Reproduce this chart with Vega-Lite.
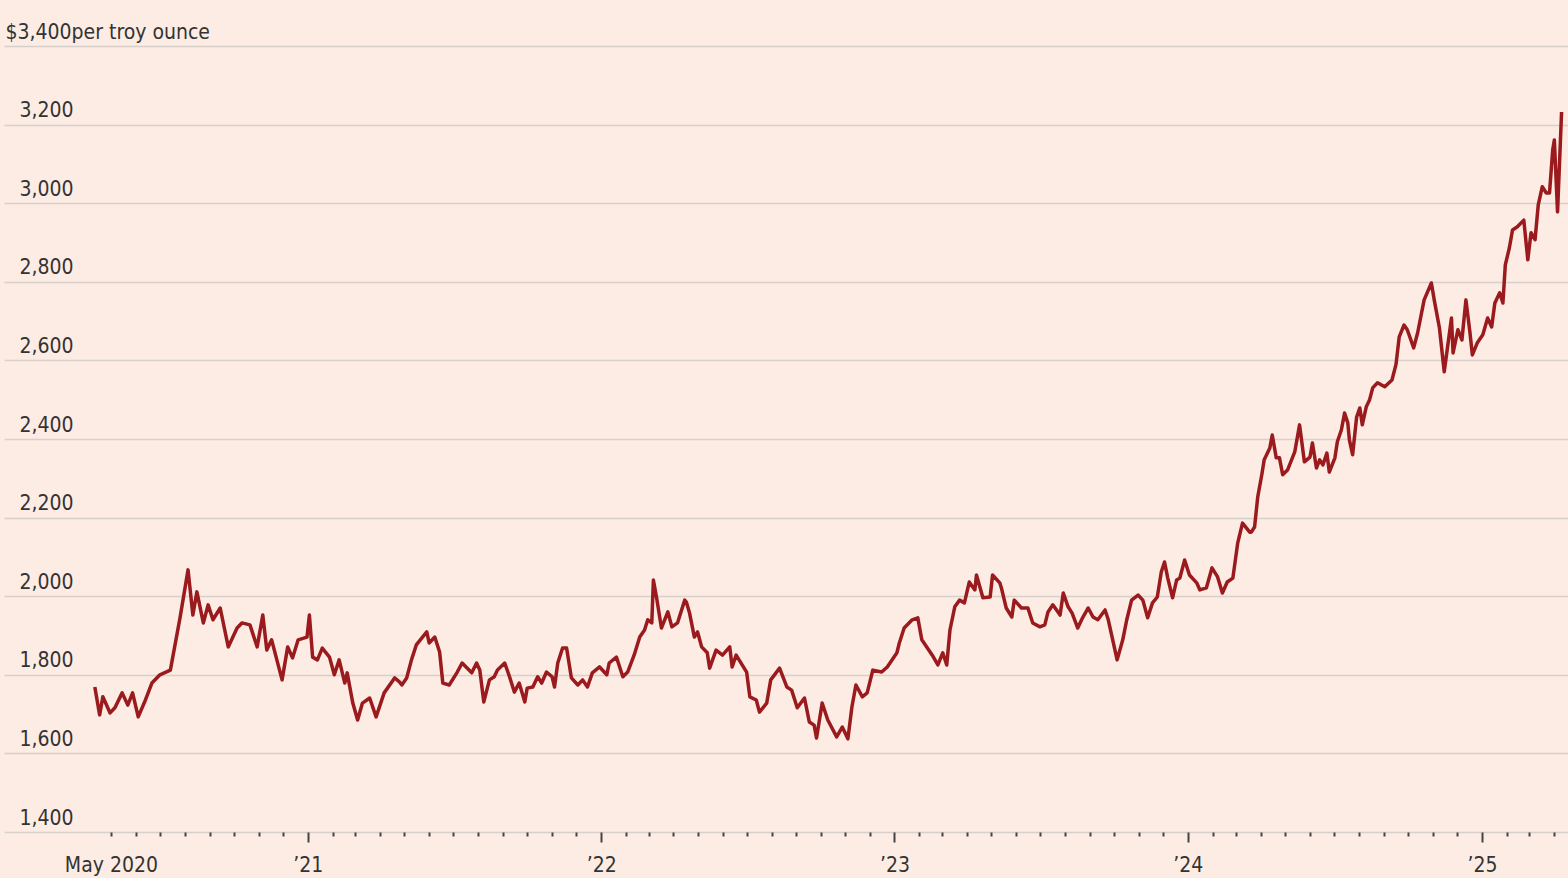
{
  "$schema": "https://vega.github.io/schema/vega-lite/v6.json",
  "autosize": "none",
  "width": 1564,
  "height": 786,
  "padding": {"left": 4, "top": 46, "right": 0, "bottom": 46},
  "background": "#fdece4",
  "config": {
    "view": {"stroke": null},
    "axis": {"labelFont": "'DejaVu Sans Condensed', Roboto, sans-serif", "labelFontSize": 21, "labelColor": "#333333", "labelLimit": 400}
  },
  "data": {
    "values": [
      {"date": "2020-04-11", "price": 1769}, {"date": "2020-04-17", "price": 1698}, {"date": "2020-04-21", "price": 1744},
      {"date": "2020-04-30", "price": 1703}, {"date": "2020-05-06", "price": 1716}, {"date": "2020-05-15", "price": 1754},
      {"date": "2020-05-22", "price": 1723}, {"date": "2020-05-28", "price": 1754}, {"date": "2020-06-04", "price": 1693},
      {"date": "2020-06-13", "price": 1736}, {"date": "2020-06-21", "price": 1779}, {"date": "2020-07-01", "price": 1800},
      {"date": "2020-07-14", "price": 1812}, {"date": "2020-07-26", "price": 1945}, {"date": "2020-08-05", "price": 2067},
      {"date": "2020-08-11", "price": 1952}, {"date": "2020-08-16", "price": 2011}, {"date": "2020-08-24", "price": 1932},
      {"date": "2020-08-30", "price": 1978}, {"date": "2020-09-05", "price": 1940}, {"date": "2020-09-14", "price": 1970},
      {"date": "2020-09-24", "price": 1871}, {"date": "2020-10-05", "price": 1919}, {"date": "2020-10-11", "price": 1932},
      {"date": "2020-10-21", "price": 1927}, {"date": "2020-10-30", "price": 1871}, {"date": "2020-11-06", "price": 1952},
      {"date": "2020-11-11", "price": 1863}, {"date": "2020-11-17", "price": 1889}, {"date": "2020-11-30", "price": 1787},
      {"date": "2020-12-07", "price": 1871}, {"date": "2020-12-13", "price": 1843}, {"date": "2020-12-20", "price": 1889},
      {"date": "2020-12-31", "price": 1896}, {"date": "2021-01-03", "price": 1952}, {"date": "2021-01-07", "price": 1845},
      {"date": "2021-01-13", "price": 1838}, {"date": "2021-01-19", "price": 1868}, {"date": "2021-01-28", "price": 1845},
      {"date": "2021-02-03", "price": 1800}, {"date": "2021-02-09", "price": 1838}, {"date": "2021-02-16", "price": 1779},
      {"date": "2021-02-19", "price": 1805}, {"date": "2021-02-26", "price": 1728}, {"date": "2021-03-04", "price": 1685},
      {"date": "2021-03-10", "price": 1728}, {"date": "2021-03-19", "price": 1741}, {"date": "2021-03-27", "price": 1693},
      {"date": "2021-04-06", "price": 1754}, {"date": "2021-04-19", "price": 1792}, {"date": "2021-04-25", "price": 1782},
      {"date": "2021-04-28", "price": 1774}, {"date": "2021-05-04", "price": 1792}, {"date": "2021-05-10", "price": 1838},
      {"date": "2021-05-16", "price": 1876}, {"date": "2021-05-29", "price": 1909}, {"date": "2021-06-01", "price": 1881},
      {"date": "2021-06-08", "price": 1896}, {"date": "2021-06-14", "price": 1858}, {"date": "2021-06-18", "price": 1779},
      {"date": "2021-06-26", "price": 1774}, {"date": "2021-07-06", "price": 1807}, {"date": "2021-07-12", "price": 1830},
      {"date": "2021-07-24", "price": 1805}, {"date": "2021-07-30", "price": 1830}, {"date": "2021-08-03", "price": 1812},
      {"date": "2021-08-08", "price": 1731}, {"date": "2021-08-15", "price": 1787}, {"date": "2021-08-21", "price": 1795},
      {"date": "2021-08-25", "price": 1812}, {"date": "2021-09-03", "price": 1830}, {"date": "2021-09-09", "price": 1795},
      {"date": "2021-09-15", "price": 1756}, {"date": "2021-09-21", "price": 1779}, {"date": "2021-09-28", "price": 1731},
      {"date": "2021-10-01", "price": 1766}, {"date": "2021-10-08", "price": 1769}, {"date": "2021-10-14", "price": 1795},
      {"date": "2021-10-19", "price": 1779}, {"date": "2021-10-25", "price": 1807}, {"date": "2021-11-01", "price": 1795},
      {"date": "2021-11-04", "price": 1769}, {"date": "2021-11-08", "price": 1830}, {"date": "2021-11-14", "price": 1868},
      {"date": "2021-11-19", "price": 1868}, {"date": "2021-11-25", "price": 1792}, {"date": "2021-12-03", "price": 1774},
      {"date": "2021-12-09", "price": 1787}, {"date": "2021-12-15", "price": 1769}, {"date": "2021-12-21", "price": 1805},
      {"date": "2021-12-30", "price": 1820}, {"date": "2022-01-08", "price": 1800}, {"date": "2022-01-11", "price": 1830},
      {"date": "2022-01-20", "price": 1845}, {"date": "2022-01-28", "price": 1795}, {"date": "2022-02-03", "price": 1807},
      {"date": "2022-02-11", "price": 1850}, {"date": "2022-02-18", "price": 1896}, {"date": "2022-02-24", "price": 1914},
      {"date": "2022-02-28", "price": 1940}, {"date": "2022-03-05", "price": 1932}, {"date": "2022-03-07", "price": 2041},
      {"date": "2022-03-11", "price": 1996}, {"date": "2022-03-17", "price": 1919}, {"date": "2022-03-25", "price": 1960},
      {"date": "2022-03-30", "price": 1922}, {"date": "2022-04-06", "price": 1932}, {"date": "2022-04-15", "price": 1990},
      {"date": "2022-04-17", "price": 1985}, {"date": "2022-04-21", "price": 1957}, {"date": "2022-04-27", "price": 1896},
      {"date": "2022-05-01", "price": 1909}, {"date": "2022-05-06", "price": 1871}, {"date": "2022-05-13", "price": 1856},
      {"date": "2022-05-16", "price": 1817}, {"date": "2022-05-24", "price": 1863}, {"date": "2022-06-01", "price": 1850},
      {"date": "2022-06-10", "price": 1871}, {"date": "2022-06-13", "price": 1820}, {"date": "2022-06-18", "price": 1850},
      {"date": "2022-07-01", "price": 1807}, {"date": "2022-07-05", "price": 1744}, {"date": "2022-07-13", "price": 1736},
      {"date": "2022-07-17", "price": 1705}, {"date": "2022-07-26", "price": 1728}, {"date": "2022-07-31", "price": 1787},
      {"date": "2022-08-11", "price": 1817}, {"date": "2022-08-20", "price": 1769}, {"date": "2022-08-26", "price": 1761},
      {"date": "2022-09-02", "price": 1716}, {"date": "2022-09-11", "price": 1741}, {"date": "2022-09-17", "price": 1680},
      {"date": "2022-09-23", "price": 1672}, {"date": "2022-09-26", "price": 1639}, {"date": "2022-10-03", "price": 1728},
      {"date": "2022-10-10", "price": 1685}, {"date": "2022-10-21", "price": 1642}, {"date": "2022-10-28", "price": 1667},
      {"date": "2022-11-04", "price": 1637}, {"date": "2022-11-09", "price": 1718}, {"date": "2022-11-14", "price": 1774},
      {"date": "2022-11-22", "price": 1744}, {"date": "2022-11-28", "price": 1754}, {"date": "2022-12-05", "price": 1812},
      {"date": "2022-12-16", "price": 1807}, {"date": "2022-12-23", "price": 1820}, {"date": "2023-01-04", "price": 1856},
      {"date": "2023-01-07", "price": 1881}, {"date": "2023-01-13", "price": 1919}, {"date": "2023-01-23", "price": 1940},
      {"date": "2023-01-30", "price": 1945}, {"date": "2023-02-04", "price": 1889}, {"date": "2023-02-17", "price": 1850},
      {"date": "2023-02-24", "price": 1825}, {"date": "2023-03-02", "price": 1856}, {"date": "2023-03-07", "price": 1825},
      {"date": "2023-03-11", "price": 1914}, {"date": "2023-03-17", "price": 1973}, {"date": "2023-03-23", "price": 1990},
      {"date": "2023-03-29", "price": 1983}, {"date": "2023-04-04", "price": 2036}, {"date": "2023-04-11", "price": 2016},
      {"date": "2023-04-13", "price": 2054}, {"date": "2023-04-21", "price": 1996}, {"date": "2023-04-30", "price": 1998},
      {"date": "2023-05-03", "price": 2054}, {"date": "2023-05-12", "price": 2034}, {"date": "2023-05-14", "price": 2021},
      {"date": "2023-05-20", "price": 1970}, {"date": "2023-05-27", "price": 1947}, {"date": "2023-05-30", "price": 1990},
      {"date": "2023-06-08", "price": 1970}, {"date": "2023-06-16", "price": 1970}, {"date": "2023-06-22", "price": 1932},
      {"date": "2023-07-01", "price": 1922}, {"date": "2023-07-07", "price": 1927}, {"date": "2023-07-11", "price": 1960},
      {"date": "2023-07-17", "price": 1978}, {"date": "2023-07-26", "price": 1952}, {"date": "2023-07-30", "price": 2008},
      {"date": "2023-08-05", "price": 1973}, {"date": "2023-08-10", "price": 1957}, {"date": "2023-08-17", "price": 1919},
      {"date": "2023-08-23", "price": 1945}, {"date": "2023-08-30", "price": 1970}, {"date": "2023-09-05", "price": 1947},
      {"date": "2023-09-11", "price": 1940}, {"date": "2023-09-20", "price": 1965}, {"date": "2023-09-24", "price": 1940},
      {"date": "2023-10-05", "price": 1838}, {"date": "2023-10-12", "price": 1889}, {"date": "2023-10-17", "price": 1940},
      {"date": "2023-10-23", "price": 1990}, {"date": "2023-10-31", "price": 2003}, {"date": "2023-11-06", "price": 1990},
      {"date": "2023-11-12", "price": 1945}, {"date": "2023-11-18", "price": 1983}, {"date": "2023-11-24", "price": 1998},
      {"date": "2023-11-29", "price": 2062}, {"date": "2023-12-03", "price": 2087}, {"date": "2023-12-07", "price": 2046},
      {"date": "2023-12-13", "price": 1996}, {"date": "2023-12-18", "price": 2041}, {"date": "2023-12-22", "price": 2046},
      {"date": "2023-12-28", "price": 2092}, {"date": "2024-01-03", "price": 2054}, {"date": "2024-01-12", "price": 2034},
      {"date": "2024-01-16", "price": 2016}, {"date": "2024-01-24", "price": 2021}, {"date": "2024-01-31", "price": 2072},
      {"date": "2024-02-07", "price": 2049}, {"date": "2024-02-13", "price": 2008}, {"date": "2024-02-19", "price": 2036},
      {"date": "2024-02-26", "price": 2046}, {"date": "2024-03-03", "price": 2135}, {"date": "2024-03-09", "price": 2186},
      {"date": "2024-03-18", "price": 2163}, {"date": "2024-03-20", "price": 2163}, {"date": "2024-03-24", "price": 2176},
      {"date": "2024-03-28", "price": 2253}, {"date": "2024-04-02", "price": 2309}, {"date": "2024-04-05", "price": 2347},
      {"date": "2024-04-12", "price": 2377}, {"date": "2024-04-15", "price": 2410}, {"date": "2024-04-20", "price": 2352},
      {"date": "2024-04-24", "price": 2352}, {"date": "2024-04-28", "price": 2309}, {"date": "2024-05-04", "price": 2321},
      {"date": "2024-05-13", "price": 2367}, {"date": "2024-05-19", "price": 2436}, {"date": "2024-05-25", "price": 2342},
      {"date": "2024-06-01", "price": 2354}, {"date": "2024-06-04", "price": 2390}, {"date": "2024-06-09", "price": 2326},
      {"date": "2024-06-13", "price": 2347}, {"date": "2024-06-17", "price": 2334}, {"date": "2024-06-22", "price": 2364},
      {"date": "2024-06-25", "price": 2316}, {"date": "2024-07-02", "price": 2352}, {"date": "2024-07-05", "price": 2393},
      {"date": "2024-07-10", "price": 2423}, {"date": "2024-07-14", "price": 2466}, {"date": "2024-07-18", "price": 2441},
      {"date": "2024-07-20", "price": 2398}, {"date": "2024-07-24", "price": 2360}, {"date": "2024-07-29", "price": 2456},
      {"date": "2024-08-02", "price": 2479}, {"date": "2024-08-05", "price": 2436}, {"date": "2024-08-10", "price": 2482},
      {"date": "2024-08-14", "price": 2499}, {"date": "2024-08-18", "price": 2530}, {"date": "2024-08-24", "price": 2543},
      {"date": "2024-09-02", "price": 2533}, {"date": "2024-09-11", "price": 2550}, {"date": "2024-09-16", "price": 2590},
      {"date": "2024-09-20", "price": 2660}, {"date": "2024-09-26", "price": 2690}, {"date": "2024-09-30", "price": 2678},
      {"date": "2024-10-08", "price": 2632}, {"date": "2024-10-13", "price": 2671}, {"date": "2024-10-21", "price": 2754},
      {"date": "2024-10-30", "price": 2797}, {"date": "2024-11-03", "price": 2749}, {"date": "2024-11-09", "price": 2683},
      {"date": "2024-11-15", "price": 2571}, {"date": "2024-11-24", "price": 2708}, {"date": "2024-11-26", "price": 2619},
      {"date": "2024-12-02", "price": 2678}, {"date": "2024-12-07", "price": 2652}, {"date": "2024-12-12", "price": 2754},
      {"date": "2024-12-17", "price": 2671}, {"date": "2024-12-20", "price": 2614}, {"date": "2024-12-26", "price": 2644},
      {"date": "2025-01-02", "price": 2665}, {"date": "2025-01-08", "price": 2708}, {"date": "2025-01-13", "price": 2685},
      {"date": "2025-01-17", "price": 2746}, {"date": "2025-01-23", "price": 2772}, {"date": "2025-01-27", "price": 2746},
      {"date": "2025-01-30", "price": 2843}, {"date": "2025-02-04", "price": 2886}, {"date": "2025-02-08", "price": 2932},
      {"date": "2025-02-14", "price": 2940}, {"date": "2025-02-22", "price": 2957}, {"date": "2025-02-27", "price": 2856},
      {"date": "2025-03-03", "price": 2925}, {"date": "2025-03-08", "price": 2907}, {"date": "2025-03-12", "price": 2996},
      {"date": "2025-03-17", "price": 3042}, {"date": "2025-03-22", "price": 3026}, {"date": "2025-03-26", "price": 3026},
      {"date": "2025-03-30", "price": 3136}, {"date": "2025-04-01", "price": 3161}, {"date": "2025-04-05", "price": 2978},
      {"date": "2025-04-10", "price": 3232}
    ]
  },
  "mark": {"type": "line", "color": "#9a1a1e", "strokeWidth": 3.5, "strokeJoin": "round"},
  "encoding": {
    "x": {
      "field": "date",
      "type": "temporal",
      "scale": {"type": "utc", "domain": [{"year": 2019, "month": 12, "date": 20, "utc": true}, {"year": 2025, "month": 4, "date": 18, "utc": true}]},
      "axis": {
        "title": null,
        "domain": false,
        "grid": false,
        "tickCount": {"interval": "month", "step": 1},
        "tickColor": "#444444",
        "tickWidth": 2,
        "tickSize": {"condition": {"test": "utcmonth(datum.value) == 0", "value": 10}, "value": 4},
        "labelBaseline": "alphabetic",
        "labelPadding": {"condition": {"test": "utcmonth(datum.value) == 0", "value": 29}, "value": 35},
        "labelOverlap": false,
        "labelFlush": false,
        "labelExpr": "utcyear(datum.value) == 2020 && utcmonth(datum.value) == 4 ? 'May 2020' : (utcmonth(datum.value) == 0 && utcyear(datum.value) > 2020 ? '’' + utcFormat(datum.value, '%y') : '')",
        "tickOpacity": {"condition": {"test": "utcyear(datum.value) == 2020 && utcmonth(datum.value) < 4", "value": 0}, "value": 1}
      }
    },
    "y": {
      "field": "price",
      "type": "quantitative",
      "scale": {"domain": [1400, 3400], "nice": false, "zero": false},
      "axis": {
        "title": null,
        "domain": false,
        "ticks": false,
        "values": [1400, 1600, 1800, 2000, 2200, 2400, 2600, 2800, 3000, 3200, 3400],
        "gridColor": "#d8d0cb",
        "gridWidth": 1.5,
        "labelAlign": {"condition": {"test": "datum.value == 3400", "value": "left"}, "value": "right"},
        "labelPadding": {"condition": {"test": "datum.value == 3400", "value": -1}, "value": -69},
        "labelBaseline": "alphabetic",
        "labelOffset": -8,
        "labelExpr": "datum.value == 3400 ? '$3,400per troy ounce' : format(datum.value, ',')"
      }
    }
  }
}
